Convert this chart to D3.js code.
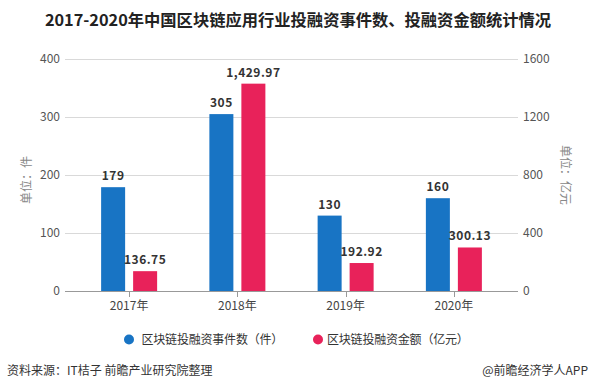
<!DOCTYPE html>
<html><head><meta charset="utf-8">
<script src="https://cdn.jsdelivr.net/npm/d3@7/dist/d3.min.js"></script>
<style>body{margin:0;background:#fff;}svg{display:block;font-family:"Microsoft YaHei","Noto Sans CJK SC",sans-serif;}</style>
</head><body>
<script>
const categories = ["2017年","2018年","2019年","2020年"];
const eventCounts = [179, 305, 130, 160];
const amounts = [136.75, 1429.97, 192.92, 300.13];
const amountLabels = ["136.75","1,429.97","192.92","300.13"];
const leftTicks = [0,100,200,300,400];
const rightTicks = [0,400,800,1200,1600];
const seriesNames = ["区块链投融资事件数（件）","区块链投融资金额（亿元）"];
const colors = ["#1874c4","#e8225a"];

const W=593,H=391;
const svg=d3.select("body").append("svg").attr("width",W).attr("height",H);
const x0=65,x1=518,yTop=59,yBot=291;
const x=d3.scaleBand().domain(categories).range([75,508]);
const yL=d3.scaleLinear().domain([0,400]).range([yBot,yTop]);
const yR=d3.scaleLinear().domain([0,1600]).range([yBot,yTop]);

svg.append("text").attr("x",298).attr("y",26).attr("text-anchor","middle")
 .attr("font-size",16.3).attr("font-weight","bold").attr("fill","#222")
 .text("2017-2020年中国区块链应用行业投融资事件数、投融资金额统计情况");

svg.append("g").selectAll("line").data(leftTicks.slice(1)).join("line")
 .attr("x1",x0).attr("x2",x1).attr("y1",d=>yL(d)+0.5).attr("y2",d=>yL(d)+0.5)
 .attr("stroke","#d9d9d9");
svg.append("g").selectAll("text").data(leftTicks).join("text")
 .attr("x",60).attr("y",d=>yL(d)+4).attr("text-anchor","end")
 .attr("font-size",12).attr("fill","#555").text(d=>d);
svg.append("g").selectAll("text").data(rightTicks).join("text")
 .attr("x",523).attr("y",d=>yR(d)+4).attr("text-anchor","start")
 .attr("font-size",12).attr("fill","#555").text(d=>d);

const bw=24, gap=8;
const g=svg.append("g");
g.selectAll("rect.a").data(eventCounts).join("rect").attr("class","a")
 .attr("x",(d,i)=>x(categories[i])+x.bandwidth()/2-gap/2-bw)
 .attr("y",d=>yL(d)).attr("width",bw).attr("height",d=>yBot-yL(d)).attr("fill",colors[0]);
g.selectAll("rect.b").data(amounts).join("rect").attr("class","b")
 .attr("x",(d,i)=>x(categories[i])+x.bandwidth()/2+gap/2)
 .attr("y",d=>yR(d)).attr("width",bw).attr("height",d=>yBot-yR(d)).attr("fill",colors[1]);
g.selectAll("text.a").data(eventCounts).join("text").attr("class","a")
 .attr("x",(d,i)=>x(categories[i])+x.bandwidth()/2-gap/2-bw/2)
 .attr("y",d=>yL(d)-7).attr("text-anchor","middle").attr("font-size",12)
 .attr("font-weight","bold").attr("fill","#333").attr("letter-spacing",0.5).text(d=>d);
g.selectAll("text.b").data(amounts).join("text").attr("class","b")
 .attr("x",(d,i)=>x(categories[i])+x.bandwidth()/2+gap/2+bw/2)
 .attr("y",d=>yR(d)-7).attr("text-anchor","middle").attr("font-size",12)
 .attr("font-weight","bold").attr("fill","#333").attr("letter-spacing",0.5).text((d,i)=>amountLabels[i]);

svg.append("line").attr("x1",x0).attr("x2",x1).attr("y1",yBot+0.5).attr("y2",yBot+0.5).attr("stroke","#999");
svg.append("g").selectAll("line").data(categories).join("line")
 .attr("x1",d=>Math.round(x(d)+x.bandwidth()/2)+0.5).attr("x2",d=>Math.round(x(d)+x.bandwidth()/2)+0.5)
 .attr("y1",yBot).attr("y2",yBot+6).attr("stroke","#999");
svg.append("g").selectAll("text").data(categories).join("text")
 .attr("x",d=>x(d)+x.bandwidth()/2).attr("y",yBot+19).attr("text-anchor","middle")
 .attr("font-size",12).attr("fill","#444").text(d=>d);

svg.append("text").attr("transform","translate(31,180) rotate(-90)").attr("text-anchor","middle")
 .attr("font-size",12).attr("fill","#888").text("单位：件");
svg.append("text").attr("transform","translate(561,175) rotate(90)").attr("text-anchor","middle")
 .attr("font-size",12).attr("fill","#888").text("单位：亿元");

const leg=[{cx:129,tx:141.5},{cx:318,tx:327}];
leg.forEach((l,i)=>{
 svg.append("circle").attr("cx",l.cx).attr("cy",339.5).attr("r",5).attr("fill",colors[i]);
 svg.append("text").attr("x",l.tx).attr("y",344).attr("font-size",12).attr("letter-spacing",-0.2).attr("fill","#333").text(seriesNames[i]);
});

svg.append("text").attr("x",7).attr("y",375).attr("font-size",12).attr("fill","#333").text("资料来源：IT桔子 前瞻产业研究院整理");
svg.append("text").attr("x",588).attr("y",375).attr("text-anchor","end").attr("font-size",12).attr("fill","#333").text("@前瞻经济学人APP");
</script>
</body></html>
